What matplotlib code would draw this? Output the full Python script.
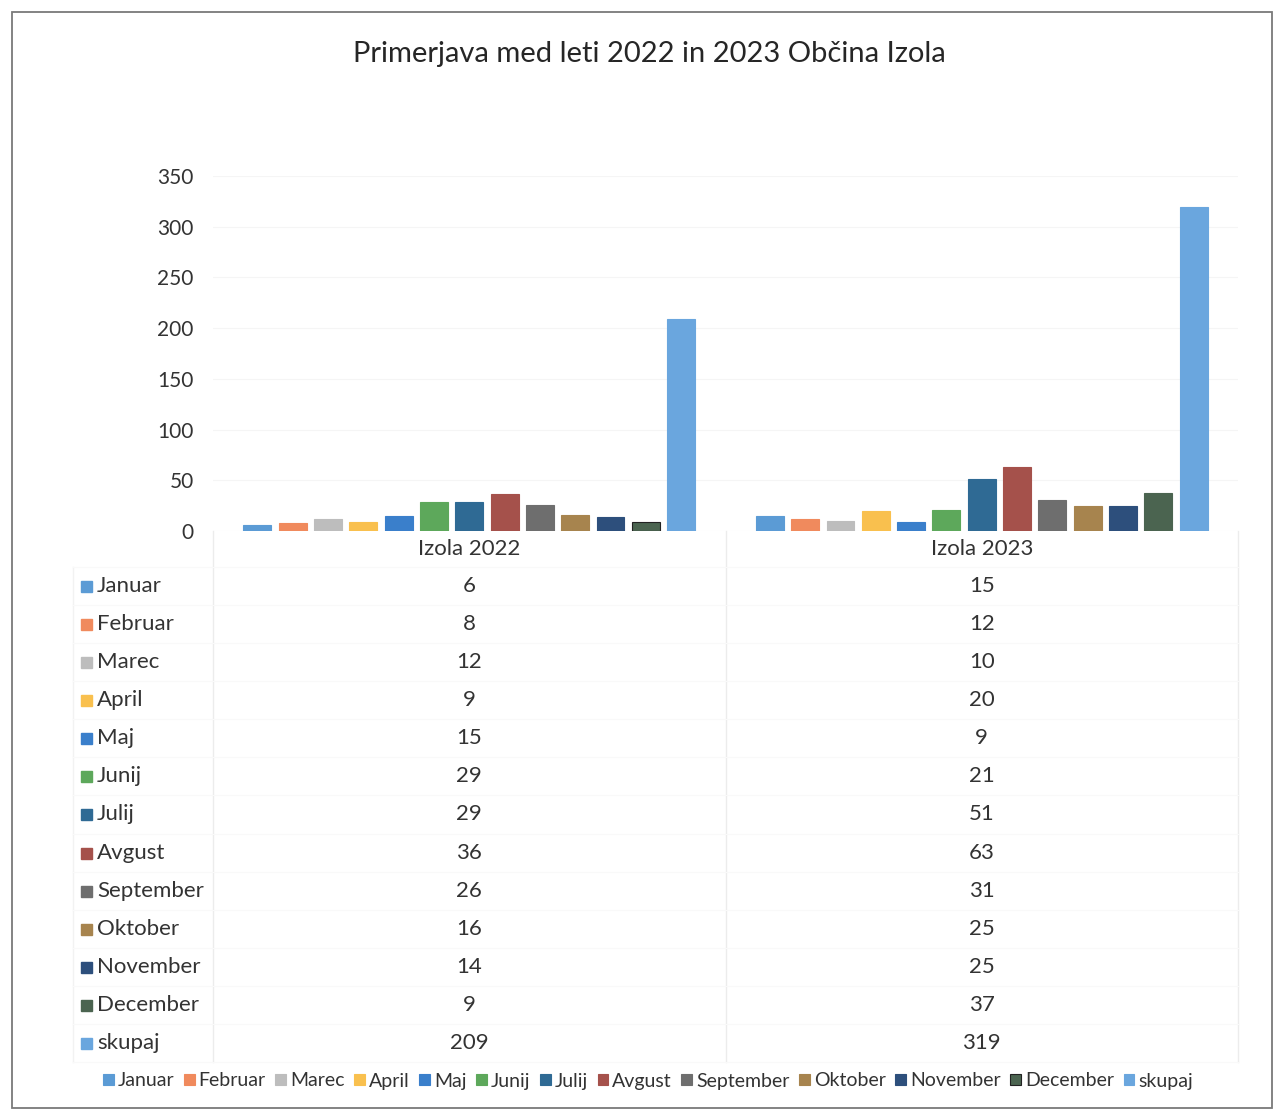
import matplotlib.pyplot as plt
from matplotlib.patches import Rectangle

plt.rcParams['font.family'] = ['Lato', 'DejaVu Sans']

title = "Primerjava med leti 2022 in 2023 Občina Izola"
groups = ["Izola 2022", "Izola 2023"]
months = ["Januar", "Februar", "Marec", "April", "Maj", "Junij", "Julij",
          "Avgust", "September", "Oktober", "November", "December", "skupaj"]
izola_2022 = [6, 8, 12, 9, 15, 29, 29, 36, 26, 16, 14, 9, 209]
izola_2023 = [15, 12, 10, 20, 9, 21, 51, 63, 31, 25, 25, 37, 319]
colors = ["#5B9BD5", "#F08A5D", "#BDBDBD", "#F9C04E", "#3A7FCB", "#5DA85B",
          "#2F6A94", "#A5514B", "#6E6E6E", "#A7844E", "#2D4F7C", "#4B6450",
          "#6AA6DE"]

W, H = 1275, 1112
fig = plt.figure(figsize=(W / 100, H / 100), dpi=100)


def fx(px):
    return px / W


def fy(py):
    return 1 - py / H


# outer frame
fig.patches.append(Rectangle((fx(12), fy(1108)), fx(1272) - fx(12), (1108 - 12) / H,
                             transform=fig.transFigure, fill=False,
                             edgecolor="#7a7a7a", lw=1.3))

left, right, top, bottom = 213, 1238, 176, 531
ax = fig.add_axes([fx(left), fy(bottom), fx(right) - fx(left), (bottom - top) / H])

centers = [0.5, 1.5]
spacing = 0.0689
width = 0.0546
for i, m in enumerate(months):
    xs = [c + (i - 6) * spacing for c in centers]
    ec = "#222222" if m == "December" else colors[i]
    ax.bar(xs, [izola_2022[i], izola_2023[i]], width, color=colors[i],
           edgecolor=[ec, colors[i]], lw=0.8, label=m)

ax.set_xlim(0, 2)
ax.set_ylim(0, 350)
ax.set_yticks(range(0, 351, 50))
ax.set_xticks([])
ax.tick_params(axis="y", length=0, pad=14, labelsize=15, labelcolor="#333333")
for s in ax.spines.values():
    s.set_visible(False)
ax.grid(axis="y", color="#f5f5f5", lw=0.8)
ax.set_axisbelow(True)

fig.text(fx(649), fy(54), title, ha="center", va="center", fontsize=21,
         color="#262626")

# data table
line_c = "#ececec"
col_x = [213, 726, 1238]
for x in col_x:
    fig.add_artist(plt.Line2D([fx(x), fx(x)], [fy(531), fy(1062)], color=line_c, lw=1))
fig.add_artist(plt.Line2D([fx(73), fx(73)], [fy(567), fy(1062)], color="#f2f2f2", lw=1))
row0, step = 586, 38.08
for k in range(len(months) + 1):
    y = row0 - step / 2 + k * step
    fig.add_artist(plt.Line2D([fx(73), fx(1238)], [fy(y), fy(y)], color="#f9f9f9", lw=0.8))

for j, g in enumerate(groups):
    xc = left + (right - left) * centers[j] / 2
    fig.text(fx(xc), fy(549), g, ha="center", va="center", fontsize=16, color="#333333")

for i, m in enumerate(months):
    y = row0 + i * step
    fig.patches.append(Rectangle((fx(81), fy(y + 6)), 11 / W, 11 / H,
                                 transform=fig.transFigure, color=colors[i]))
    fig.text(fx(97), fy(y), m, ha="left", va="center", fontsize=16, color="#333333")
    for j, vals in enumerate([izola_2022, izola_2023]):
        xc = left + (right - left) * centers[j] / 2
        fig.text(fx(xc), fy(y), str(vals[i]), ha="center", va="center",
                 fontsize=16, color="#333333")

handles, labels = ax.get_legend_handles_labels()
leg = fig.legend(handles, labels, loc="center", bbox_to_anchor=(fx(648), fy(1081)),
                 ncol=13, frameon=False, handlelength=0.55, handleheight=0.55,
                 handletextpad=0.2, columnspacing=0.5, fontsize=14)
for t in leg.get_texts():
    t.set_color("#333333")

fig.savefig("out.png", dpi=100, facecolor="white")
